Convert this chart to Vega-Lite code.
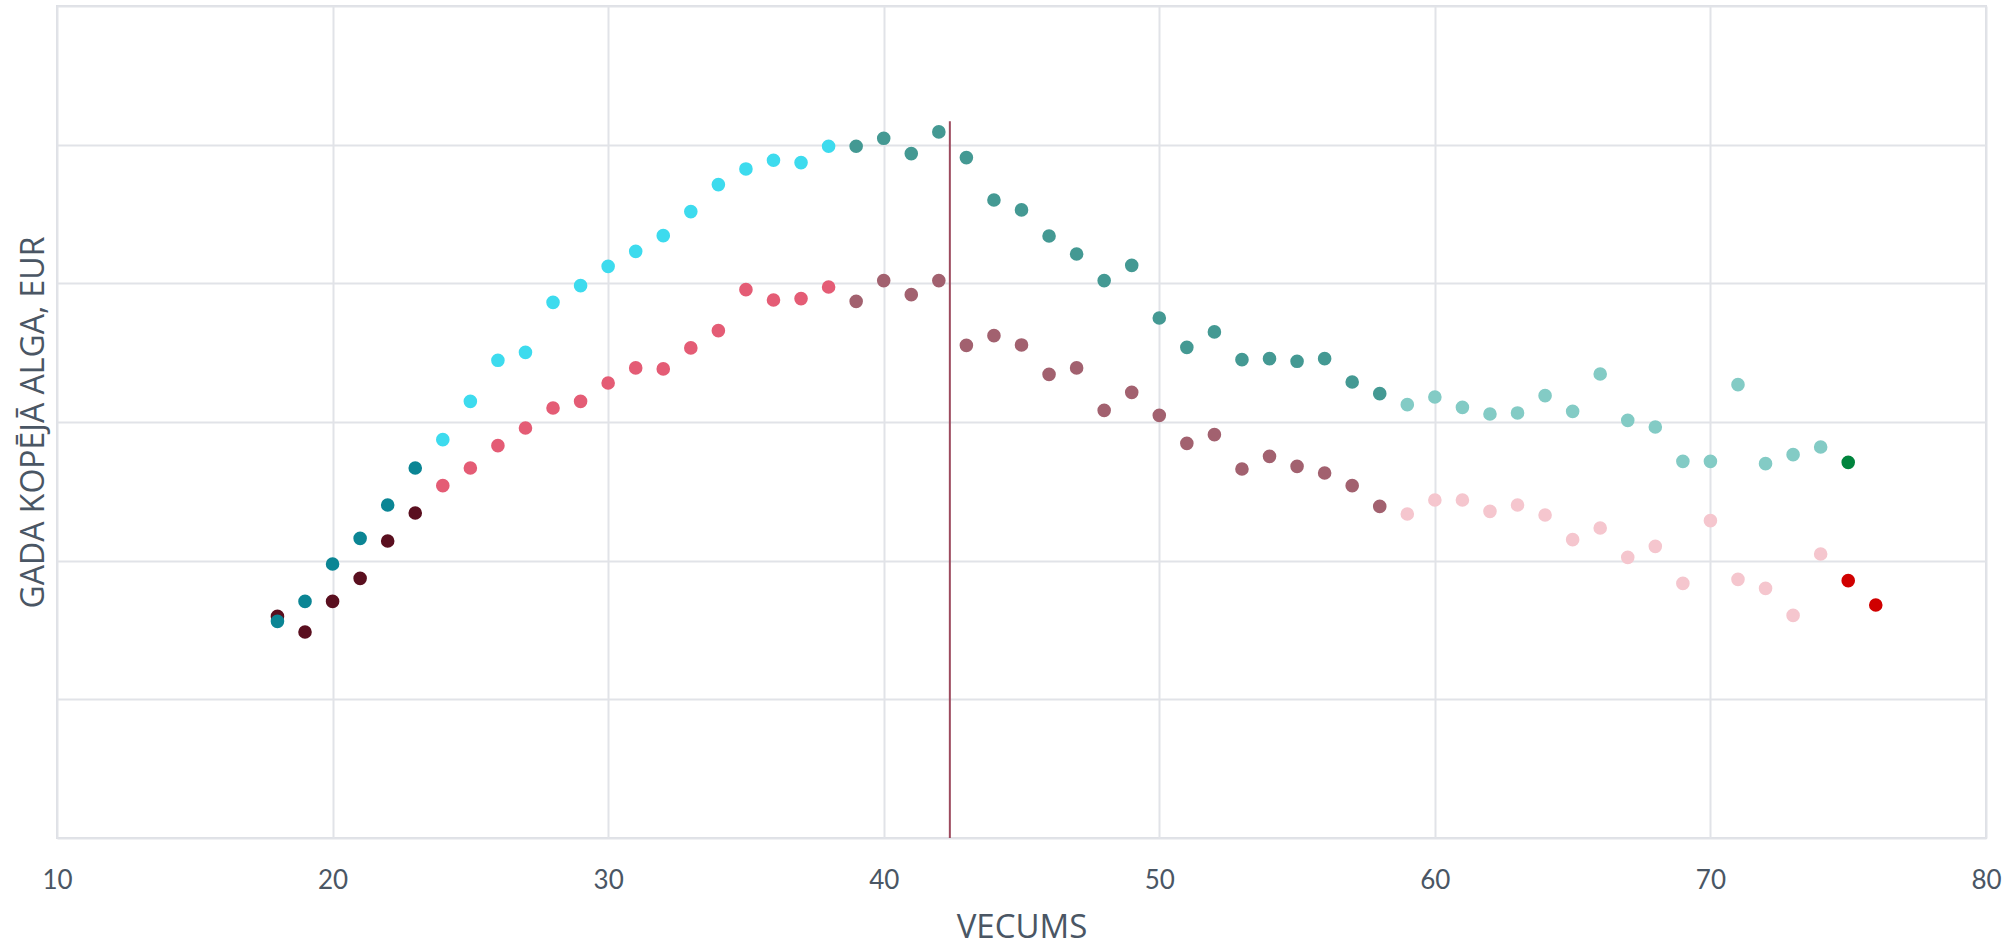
{
  "$schema": "https://vega.github.io/schema/vega-lite/v6.json",
  "width": 1929,
  "height": 832,
  "autosize": {"type": "none"},
  "padding": {"left": 57, "top": 6, "right": 30, "bottom": 110},
  "background": "#ffffff",
  "config": {
    "view": {"stroke": "#dcdfe4", "strokeWidth": 2},
    "axis": {"gridColor": "#e1e3e8", "gridWidth": 2, "domain": false, "ticks": false}
  },
  "datasets": {
    "pts": [
      {"vecums": 18, "alga": 7991, "grupa": "S 18-23"},
      {"vecums": 19, "alga": 7429, "grupa": "S 18-23"},
      {"vecums": 20, "alga": 8532, "grupa": "S 18-23"},
      {"vecums": 21, "alga": 9362, "grupa": "S 18-23"},
      {"vecums": 22, "alga": 10711, "grupa": "S 18-23"},
      {"vecums": 23, "alga": 11720, "grupa": "S 18-23"},
      {"vecums": 24, "alga": 12705, "grupa": "S 24-38"},
      {"vecums": 25, "alga": 13343, "grupa": "S 24-38"},
      {"vecums": 26, "alga": 14147, "grupa": "S 24-38"},
      {"vecums": 27, "alga": 14782, "grupa": "S 24-38"},
      {"vecums": 28, "alga": 15507, "grupa": "S 24-38"},
      {"vecums": 29, "alga": 15745, "grupa": "S 24-38"},
      {"vecums": 30, "alga": 16408, "grupa": "S 24-38"},
      {"vecums": 31, "alga": 16950, "grupa": "S 24-38"},
      {"vecums": 32, "alga": 16914, "grupa": "S 24-38"},
      {"vecums": 33, "alga": 17671, "grupa": "S 24-38"},
      {"vecums": 34, "alga": 18294, "grupa": "S 24-38"},
      {"vecums": 35, "alga": 19773, "grupa": "S 24-38"},
      {"vecums": 36, "alga": 19401, "grupa": "S 24-38"},
      {"vecums": 37, "alga": 19449, "grupa": "S 24-38"},
      {"vecums": 38, "alga": 19870, "grupa": "S 24-38"},
      {"vecums": 39, "alga": 19351, "grupa": "S 39-58"},
      {"vecums": 40, "alga": 20098, "grupa": "S 39-58"},
      {"vecums": 41, "alga": 19592, "grupa": "S 39-58"},
      {"vecums": 42, "alga": 20098, "grupa": "S 39-58"},
      {"vecums": 43, "alga": 17764, "grupa": "S 39-58"},
      {"vecums": 44, "alga": 18114, "grupa": "S 39-58"},
      {"vecums": 45, "alga": 17779, "grupa": "S 39-58"},
      {"vecums": 46, "alga": 16719, "grupa": "S 39-58"},
      {"vecums": 47, "alga": 16950, "grupa": "S 39-58"},
      {"vecums": 48, "alga": 15421, "grupa": "S 39-58"},
      {"vecums": 49, "alga": 16069, "grupa": "S 39-58"},
      {"vecums": 50, "alga": 15240, "grupa": "S 39-58"},
      {"vecums": 51, "alga": 14230, "grupa": "S 39-58"},
      {"vecums": 52, "alga": 14544, "grupa": "S 39-58"},
      {"vecums": 53, "alga": 13307, "grupa": "S 39-58"},
      {"vecums": 54, "alga": 13761, "grupa": "S 39-58"},
      {"vecums": 55, "alga": 13401, "grupa": "S 39-58"},
      {"vecums": 56, "alga": 13163, "grupa": "S 39-58"},
      {"vecums": 57, "alga": 12705, "grupa": "S 39-58"},
      {"vecums": 58, "alga": 11958, "grupa": "S 39-58"},
      {"vecums": 59, "alga": 11684, "grupa": "S 59-74"},
      {"vecums": 60, "alga": 12189, "grupa": "S 59-74"},
      {"vecums": 61, "alga": 12189, "grupa": "S 59-74"},
      {"vecums": 62, "alga": 11778, "grupa": "S 59-74"},
      {"vecums": 63, "alga": 12009, "grupa": "S 59-74"},
      {"vecums": 64, "alga": 11648, "grupa": "S 59-74"},
      {"vecums": 65, "alga": 10757, "grupa": "S 59-74"},
      {"vecums": 66, "alga": 11179, "grupa": "S 59-74"},
      {"vecums": 67, "alga": 10119, "grupa": "S 59-74"},
      {"vecums": 68, "alga": 10516, "grupa": "S 59-74"},
      {"vecums": 69, "alga": 9181, "grupa": "S 59-74"},
      {"vecums": 70, "alga": 11442, "grupa": "S 59-74"},
      {"vecums": 71, "alga": 9326, "grupa": "S 59-74"},
      {"vecums": 72, "alga": 9001, "grupa": "S 59-74"},
      {"vecums": 73, "alga": 8027, "grupa": "S 59-74"},
      {"vecums": 74, "alga": 10242, "grupa": "S 59-74"},
      {"vecums": 75, "alga": 9279, "grupa": "S 75+"},
      {"vecums": 76, "alga": 8402, "grupa": "S 75+"},
      {"vecums": 18, "alga": 7811, "grupa": "V 18-23"},
      {"vecums": 19, "alga": 8532, "grupa": "V 18-23"},
      {"vecums": 20, "alga": 9881, "grupa": "V 18-23"},
      {"vecums": 21, "alga": 10804, "grupa": "V 18-23"},
      {"vecums": 22, "alga": 12009, "grupa": "V 18-23"},
      {"vecums": 23, "alga": 13343, "grupa": "V 18-23"},
      {"vecums": 24, "alga": 14364, "grupa": "V 24-38"},
      {"vecums": 25, "alga": 15745, "grupa": "V 24-38"},
      {"vecums": 26, "alga": 17224, "grupa": "V 24-38"},
      {"vecums": 27, "alga": 17512, "grupa": "V 24-38"},
      {"vecums": 28, "alga": 19315, "grupa": "V 24-38"},
      {"vecums": 29, "alga": 19917, "grupa": "V 24-38"},
      {"vecums": 30, "alga": 20613, "grupa": "V 24-38"},
      {"vecums": 31, "alga": 21154, "grupa": "V 24-38"},
      {"vecums": 32, "alga": 21720, "grupa": "V 24-38"},
      {"vecums": 33, "alga": 22586, "grupa": "V 24-38"},
      {"vecums": 34, "alga": 23560, "grupa": "V 24-38"},
      {"vecums": 35, "alga": 24125, "grupa": "V 24-38"},
      {"vecums": 36, "alga": 24436, "grupa": "V 24-38"},
      {"vecums": 37, "alga": 24353, "grupa": "V 24-38"},
      {"vecums": 38, "alga": 24941, "grupa": "V 24-38"},
      {"vecums": 39, "alga": 24941, "grupa": "V 39-58"},
      {"vecums": 40, "alga": 25229, "grupa": "V 39-58"},
      {"vecums": 41, "alga": 24677, "grupa": "V 39-58"},
      {"vecums": 42, "alga": 25460, "grupa": "V 39-58"},
      {"vecums": 43, "alga": 24533, "grupa": "V 39-58"},
      {"vecums": 44, "alga": 23007, "grupa": "V 39-58"},
      {"vecums": 45, "alga": 22647, "grupa": "V 39-58"},
      {"vecums": 46, "alga": 21709, "grupa": "V 39-58"},
      {"vecums": 47, "alga": 21060, "grupa": "V 39-58"},
      {"vecums": 48, "alga": 20098, "grupa": "V 39-58"},
      {"vecums": 49, "alga": 20649, "grupa": "V 39-58"},
      {"vecums": 50, "alga": 18752, "grupa": "V 39-58"},
      {"vecums": 51, "alga": 17692, "grupa": "V 39-58"},
      {"vecums": 52, "alga": 18248, "grupa": "V 39-58"},
      {"vecums": 53, "alga": 17249, "grupa": "V 39-58"},
      {"vecums": 54, "alga": 17285, "grupa": "V 39-58"},
      {"vecums": 55, "alga": 17188, "grupa": "V 39-58"},
      {"vecums": 56, "alga": 17285, "grupa": "V 39-58"},
      {"vecums": 57, "alga": 16444, "grupa": "V 39-58"},
      {"vecums": 58, "alga": 16022, "grupa": "V 39-58"},
      {"vecums": 59, "alga": 15626, "grupa": "V 59-74"},
      {"vecums": 60, "alga": 15903, "grupa": "V 59-74"},
      {"vecums": 61, "alga": 15529, "grupa": "V 59-74"},
      {"vecums": 62, "alga": 15290, "grupa": "V 59-74"},
      {"vecums": 63, "alga": 15327, "grupa": "V 59-74"},
      {"vecums": 64, "alga": 15950, "grupa": "V 59-74"},
      {"vecums": 65, "alga": 15385, "grupa": "V 59-74"},
      {"vecums": 66, "alga": 16733, "grupa": "V 59-74"},
      {"vecums": 67, "alga": 15060, "grupa": "V 59-74"},
      {"vecums": 68, "alga": 14822, "grupa": "V 59-74"},
      {"vecums": 69, "alga": 13581, "grupa": "V 59-74"},
      {"vecums": 70, "alga": 13581, "grupa": "V 59-74"},
      {"vecums": 71, "alga": 16347, "grupa": "V 59-74"},
      {"vecums": 72, "alga": 13498, "grupa": "V 59-74"},
      {"vecums": 73, "alga": 13823, "grupa": "V 59-74"},
      {"vecums": 74, "alga": 14100, "grupa": "V 59-74"},
      {"vecums": 75, "alga": 13545, "grupa": "V 75+"}
    ],
    "videjais": [
      {"vecums": 42.4, "no": 0, "lidz": 25840}
    ]
  },
  "layer": [
    {
      "data": {"name": "pts"},
      "mark": {"type": "circle", "size": 185, "opacity": 1},
      "encoding": {
        "x": {
          "field": "vecums", "type": "quantitative",
          "scale": {"domain": [10, 80], "nice": false, "zero": false},
          "axis": {
            "values": [10, 20, 30, 40, 50, 60, 70, 80],
            "title": "VECUMS",
            "titleFont": "Open Sans", "titleFontSize": 33, "titleFontWeight": "normal",
            "titleColor": "#4a5664", "titleBaseline": "middle", "titleY": 89,
            "labelFont": "Lato", "labelFontSize": 26, "labelColor": "#4a5664",
            "labelBaseline": "middle", "labelPadding": 42, "labelFlush": false
          }
        },
        "y": {
          "field": "alga", "type": "quantitative",
          "scale": {"domain": [0, 30000], "nice": false},
          "axis": {
            "values": [0, 5000, 10000, 15000, 20000, 25000, 30000],
            "labels": false,
            "title": "GADA KOPĒJĀ ALGA, EUR",
            "titleFont": "Open Sans", "titleFontSize": 32, "titleFontWeight": "normal",
            "titleColor": "#4a5664", "titleAngle": 270, "titleBaseline": "middle",
            "titleX": -24, "titleY": 416, "titleAlign": "center"
          }
        },
        "color": {
          "field": "grupa", "type": "nominal", "legend": null,
          "scale": {
            "domain": ["S 18-23", "S 24-38", "S 39-58", "S 59-74", "S 75+", "V 18-23", "V 24-38", "V 39-58", "V 59-74", "V 75+"],
            "range": ["#5a0f1f", "#e45c75", "#a2616f", "#f5c6ce", "#d00000", "#0b8594", "#3ddbee", "#449993", "#83cbc5", "#00843d"]
          }
        }
      }
    },
    {
      "data": {"name": "videjais"},
      "mark": {"type": "rule", "color": "#9c4a5e", "strokeWidth": 2},
      "encoding": {
        "x": {"field": "vecums", "type": "quantitative"},
        "y": {"field": "no", "type": "quantitative"},
        "y2": {"field": "lidz"}
      }
    }
  ]
}
